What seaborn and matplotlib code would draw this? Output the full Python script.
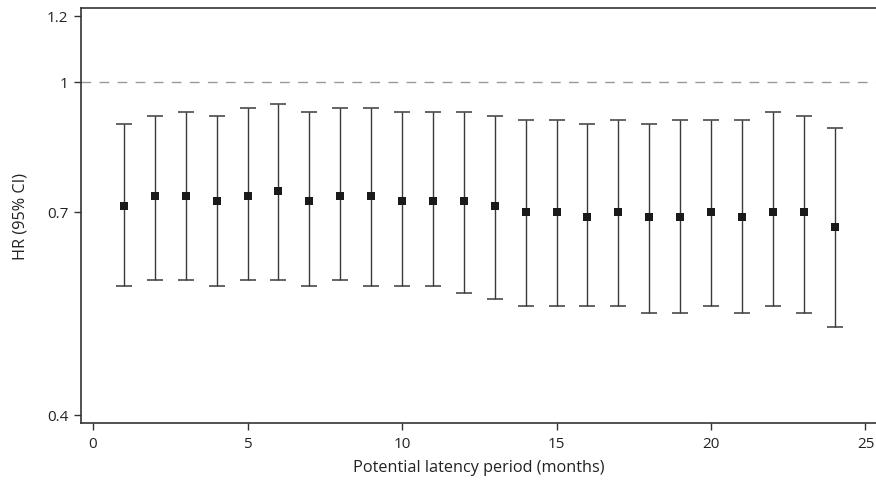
import matplotlib
matplotlib.use("Agg")
import matplotlib.pyplot as plt
import seaborn as sns
import numpy as np
import pandas as pd
from matplotlib.ticker import FixedLocator, FixedFormatter, NullLocator

months = list(range(1, 25))
hr = [0.71, 0.73, 0.73, 0.72, 0.73, 0.74, 0.72, 0.73, 0.73, 0.72, 0.72, 0.72,
      0.71, 0.70, 0.70, 0.69, 0.70, 0.69, 0.69, 0.70, 0.69, 0.70, 0.70, 0.67]
lower = [0.57, 0.58, 0.58, 0.57, 0.58, 0.58, 0.57, 0.58, 0.57, 0.57, 0.57, 0.56,
         0.55, 0.54, 0.54, 0.54, 0.54, 0.53, 0.53, 0.54, 0.53, 0.54, 0.53, 0.51]
upper = [0.89, 0.91, 0.92, 0.91, 0.93, 0.94, 0.92, 0.93, 0.93, 0.92, 0.92, 0.92,
         0.91, 0.90, 0.90, 0.89, 0.90, 0.89, 0.90, 0.90, 0.90, 0.92, 0.91, 0.88]
ytick_vals = [0.4, 0.7, 1, 1.2]
ytick_labels = ["0.4", "0.7", "1", "1.2"]
xtick_vals = [0, 5, 10, 15, 20, 25]

df = pd.DataFrame({"month": months, "hr": hr, "lower": lower, "upper": upper})

sns.set_theme(style="white")
plt.rcParams["font.family"] = ["Open Sans", "DejaVu Sans"]

fig = plt.figure(figsize=(8.76, 4.81), dpi=100)
ax = fig.add_axes([81 / 876, 1 - 424 / 481, 1 - 81 / 876, (424 - 9) / 481])

ax.set_yscale("log")
ax.axhline(1, color="#999999", lw=1.0, dashes=(7, 6), zorder=1)

yerr = np.array([df["hr"] - df["lower"], df["upper"] - df["hr"]])
ax.errorbar(df["month"], df["hr"], yerr=yerr, fmt="none", ecolor="#3a3a3a",
            elinewidth=1.0, capsize=6, capthick=1.1, zorder=2)
sns.scatterplot(data=df, x="month", y="hr", marker="s", s=28, color="#1a1a1a",
                edgecolor="#1a1a1a", linewidth=0, ax=ax, zorder=3)

ax.set_xlim(-0.39, 25.34)
ax.set_ylim(0.391, 1.226)
ax.yaxis.set_major_locator(FixedLocator(ytick_vals))
ax.yaxis.set_major_formatter(FixedFormatter(ytick_labels))
ax.yaxis.set_minor_locator(NullLocator())
ax.set_xticks(xtick_vals)
ax.set_xticklabels([str(v) for v in xtick_vals])

ax.tick_params(axis="both", which="major", direction="out", length=5, width=1,
               color="#333333", labelsize=11, labelcolor="#222222", pad=4,
               left=True, bottom=True)
ax.set_xlabel("Potential latency period (months)", fontsize=11.7, color="#222222", labelpad=6)
ax.set_ylabel("HR (95% CI)", fontsize=11.7, color="#222222", labelpad=13)

for side in ["left", "bottom", "top"]:
    ax.spines[side].set_visible(True)
    ax.spines[side].set_color("#333333")
    ax.spines[side].set_linewidth(1.2)
ax.spines["right"].set_visible(False)

fig.savefig("out.png", dpi=100)
